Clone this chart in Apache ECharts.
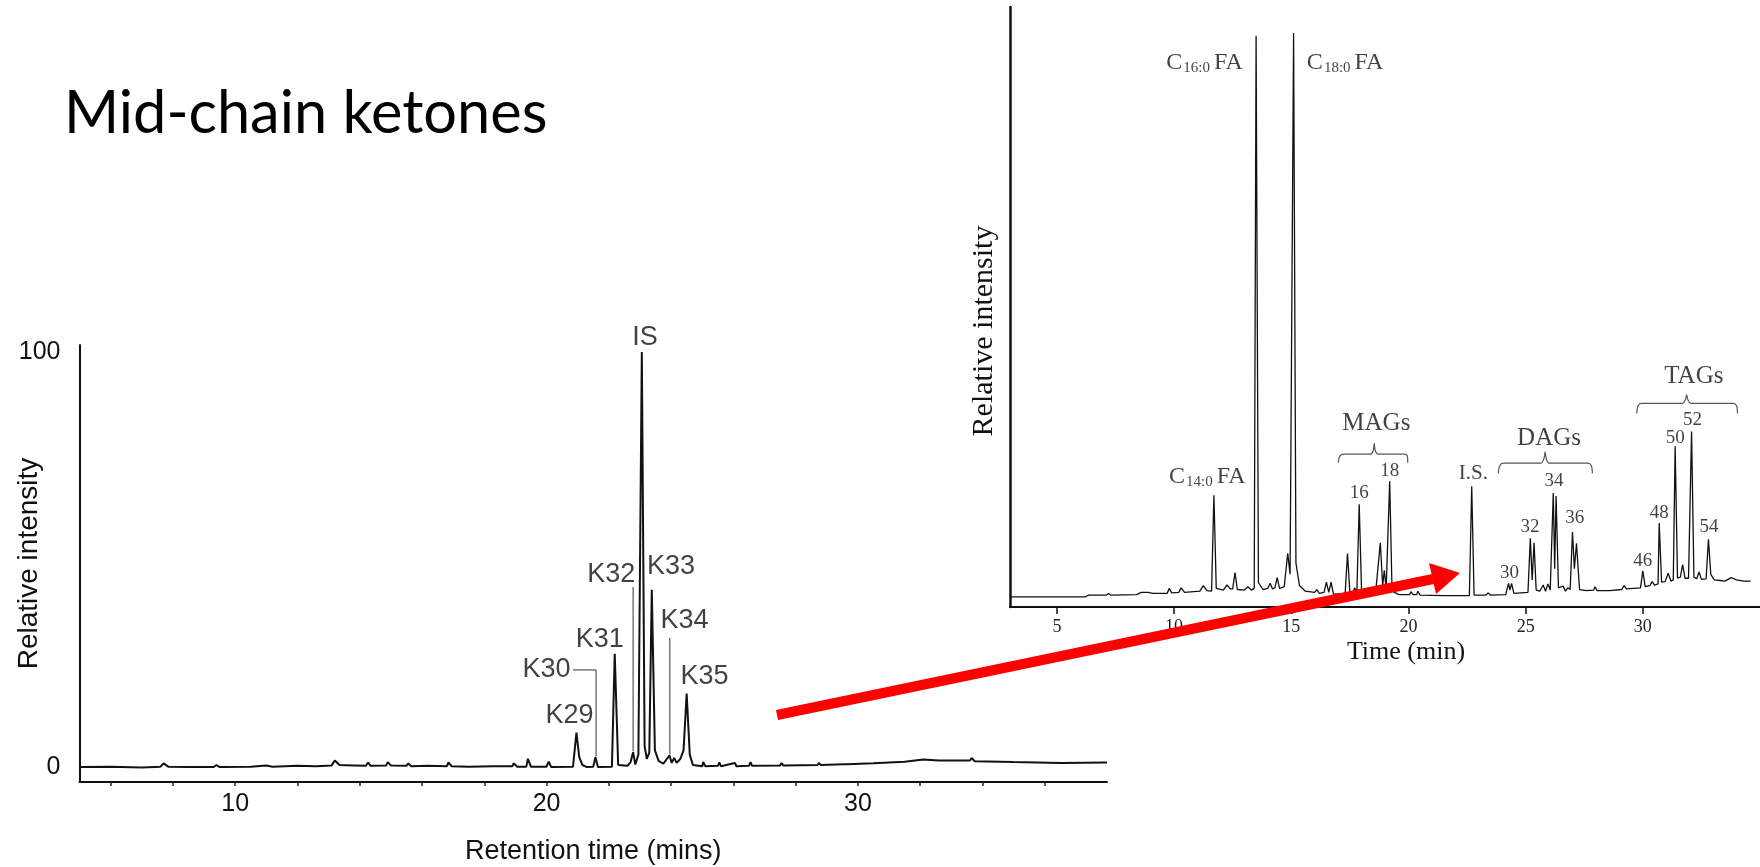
<!DOCTYPE html>
<html>
<head>
<meta charset="utf-8">
<script src="https://cdn.jsdelivr.net/npm/echarts@6/dist/echarts.min.js"></script>
<style>
html, body { margin: 0; padding: 0; background: #fff; }
#chart { width: 1760px; height: 867px; }
</style>
</head>
<body>
<div id="chart"></div>
<script>
// left chromatogram: mid-chain ketones, [retention time (min), relative intensity]
var ketoneTrace = [
    [5,0],[6,0.1],[7,-0.1],[7.6,0.1],[7.7,0.9],[7.85,0.1],[8.5,0],[9.3,0],[9.4,0.5],[9.5,0],
    [10.5,0.1],[11,0.4],[11.2,0.1],[12,0.3],[12.6,0.2],[13.1,0.4],[13.2,1.6],[13.35,0.5],[13.8,0.4],
    [14.2,0.3],[14.27,1.1],[14.35,0.3],[14.85,0.4],[14.9,1.2],[15.0,0.4],[15.5,0.3],[15.56,0.9],[15.65,0.2],
    [16.2,0.3],[16.8,0.2],[16.85,1.1],[16.95,0.2],[17.5,0.1],[18.3,0.2],[18.9,0.2],[18.95,0.9],[19.05,0.1],
    [19.35,0.1],[19.4,2.0],[19.5,0.1],[20.0,0.1],[20.07,1.3],[20.15,0],[20.85,0.1],[20.96,8.3],[21.05,2.4],
    [21.15,0.5],[21.3,0],[21.5,0.1],[21.57,2.4],[21.65,0],[22.1,0.1],[22.19,27.3],[22.3,0.5],[22.6,0.3],
    [22.7,1.2],[22.78,3.6],[22.85,0.6],[22.95,3],[23.06,100],[23.15,5],[23.22,2],[23.3,3.5],[23.38,42.7],
    [23.48,4],[23.6,1.5],[23.75,0.8],[23.95,2.8],[24.02,1.0],[24.1,2.2],[24.18,1.0],[24.3,2.0],[24.4,4],
    [24.5,17.7],[24.6,3],[24.7,0.5],[25.0,0.2],[25.03,1.2],[25.1,0.2],[25.5,0.3],[25.55,1.1],[25.6,0.2],
    [26.05,1.0],[26.1,0.2],[26.5,0.3],[26.55,1.2],[26.6,0.3],[27.5,0.4],[27.55,1.0],[27.6,0.4],[28.7,0.5],
    [28.75,1.0],[28.8,0.5],[29.55,0.7],[29.6,1.1],[29.65,0.7],[30.5,0.9],[31.5,1.3],[32.1,1.8],[32.6,1.6],
    [33.6,1.6],[33.65,2.2],[33.75,1.4],[35,1.2],[36.5,1.0],[38,1.1]
];
// [label centre time, label centre intensity, text]
var ketoneLabels = [
    [23.16,103.6,'IS'],[24.0,48.4,'K33'],[22.08,46.5,'K32'],[21.71,30.8,'K31'],
    [20.0,23.4,'K30'],[20.74,12.3,'K29'],[24.43,35.2,'K34'],[25.07,21.7,'K35']
];
var ketoneLeaders = [
    [[20.85,23.4],[21.59,23.4],[21.59,2.6]],
    [[22.78,43.4],[22.78,3.8]],
    [[23.96,31.1],[23.96,3.0]]
];
var ketoneTimeLabels = [10,20,30];
var ketoneTimeTicks = [6,8,10,12,14,16,18,20,22,24,26,28,30,32,34,36];
var ketoneIntensityLabels = [0,100];

// right chromatogram: lipid extract, [time (min), relative intensity]
var lipidTrace = [
    [3,0],[4,0],[5,0],[6.2,0],[6.35,0.3],[7.1,0.3],[7.2,0.6],[7.3,0.3],[8.4,0.4],[8.6,0.8],[8.9,0.8],
    [9.1,0.6],[9.7,0.6],[9.8,1.5],[9.9,0.7],[10.2,0.8],[10.3,1.6],[10.45,0.8],[11.1,1.0],[11.25,2.0],
    [11.4,1.1],[11.6,1.0],[11.7,18.0],[11.8,1.5],[12.1,1.2],[12.26,2.1],[12.4,1.4],[12.5,1.4],[12.6,4.3],
    [12.7,1.3],[13.0,1.2],[13.15,1.8],[13.3,1.2],[13.42,1.5],[13.5,99.5],[13.6,2.5],[13.8,1.3],[14.0,1.5],
    [14.1,2.4],[14.2,1.4],[14.3,1.6],[14.4,3.4],[14.5,1.5],[14.7,1.8],[14.85,7.7],[14.95,4],[15.1,100],
    [15.2,6],[15.35,2],[15.6,1.0],[16.0,0.8],[16.1,1.3],[16.2,0.6],[16.4,0.8],[16.5,2.6],[16.6,0.8],
    [16.7,2.6],[16.8,0.5],[17.3,0.6],[17.4,7.7],[17.5,0.8],[17.65,0.8],[17.7,1.6],[17.8,0.9],[17.9,16.4],
    [18.0,0.9],[18.6,0.8],[18.8,9.6],[18.9,2],[18.97,4.7],[19.05,1.5],[19.2,20.5],[19.3,1.0],[19.6,0.4],
    [20.05,0.4],[20.1,0.9],[20.2,0.4],[20.35,0.4],[20.4,1.0],[20.5,0.3],[21.5,0.2],[22.6,0.2],[22.7,19.6],
    [22.8,0.3],[23.3,0.3],[23.4,0.7],[23.5,0.3],[24.15,0.4],[24.27,2.4],[24.33,1.2],[24.4,2.4],[24.5,0.6],
    [24.8,0.7],[25.1,0.8],[25.2,10.4],[25.28,3],[25.36,9.6],[25.45,1.2],[25.6,1.0],[25.75,2.1],[25.85,1.0],
    [25.95,2.3],[26.05,1.2],[26.18,18.4],[26.24,5],[26.3,17.9],[26.4,1.6],[26.6,1.9],[26.7,1.0],[26.8,1.6],
    [26.9,1.3],[27.0,11.5],[27.08,5],[27.17,9.5],[27.3,1.3],[27.6,1.1],[27.9,1.2],[27.96,1.8],[28.05,1.1],
    [28.6,1.1],[29.1,1.3],[29.2,2.0],[29.3,1.4],[29.9,1.6],[30.0,4.6],[30.1,1.8],[30.3,2.0],[30.4,2.7],
    [30.5,2.1],[30.65,2.3],[30.7,13.1],[30.8,2.6],[30.95,2.7],[31.08,4.2],[31.2,2.8],[31.3,3],[31.38,26.7],
    [31.48,3.3],[31.6,3.5],[31.7,5.7],[31.8,3.3],[31.95,3.3],[32.08,29.3],[32.18,3.5],[32.3,3.2],[32.4,4.4],
    [32.5,3.1],[32.7,3.2],[32.8,10.2],[32.9,4],[33.05,3.0],[33.3,2.9],[33.5,2.8],[33.77,3.4],[34.0,3.0],
    [34.3,2.8],[34.6,2.8]
];
var lipidLabels = [
    [11.3,94.7,'C16:0 FA'],[17.3,94.7,'C18:0 FA'],[11.42,21.3,'C14:0 FA'],
    [18.63,30.8,'MAGs'],[17.9,18.4,'16'],[19.2,22.4,'18'],[22.77,21.9,'I.S.'],
    [26.0,28.1,'DAGs'],[26.21,20.5,'34'],[25.19,12.4,'32'],[27.1,13.9,'36'],[24.31,4.3,'30'],
    [32.18,39.0,'TAGs'],[32.12,31.3,'52'],[31.38,28.1,'50'],[30.7,14.8,'48'],[32.82,12.3,'54'],[30.0,6.3,'46']
];
var lipidBraces = [
    [[17.0,23.8],[17.08,25.0],[17.25,25.3],[18.38,25.3],[18.5,26.0],[18.54,27.2],[18.58,26.0],[18.7,25.3],[19.8,25.3],[19.95,25.0],[19.97,23.8]],
    [[23.83,21.9],[23.9,23.3],[24.05,23.7],[25.65,23.7],[25.78,24.5],[25.83,25.7],[25.88,24.5],[26.0,23.7],[27.65,23.7],[27.8,23.3],[27.85,21.9]],
    [[29.74,32.5],[29.8,33.9],[29.95,34.3],[31.7,34.3],[31.82,35.0],[31.87,35.8],[31.92,35.0],[32.05,34.3],[33.85,34.3],[34.0,33.9],[34.04,32.5]]
];
var lipidTimeLabels = [5,10,15,20,25,30];

var sans = 'Liberation Sans';
var serif = 'Liberation Serif';

var myChart = echarts.init(document.getElementById('chart'));

function lipidText(t) {
    var m = /^C(\d+:\d+) FA$/.exec(t);
    if (m) return '{m|C}{s|' + m[1] + '}{m|FA}';
    if (/Gs$/.test(t)) return '{g|' + t + '}';
    if (t === 'I.S.') return '{i|' + t + '}';
    return '{n|' + t + '}';
}

var series = [
    {
        type: 'line', xAxisIndex: 0, yAxisIndex: 0, data: ketoneTrace,
        showSymbol: false, silent: true,
        lineStyle: { color: '#111', width: 2 }
    },
    {
        type: 'scatter', xAxisIndex: 0, yAxisIndex: 0, data: ketoneLabels,
        symbolSize: 1, itemStyle: { color: 'transparent' }, clip: false, silent: true,
        label: {
            show: true, position: 'inside', color: '#111',
            fontFamily: sans, fontSize: 27,
            formatter: function (p) { return p.data[2]; }
        }
    },
    {
        type: 'line', xAxisIndex: 1, yAxisIndex: 1, data: lipidTrace,
        showSymbol: false, silent: true,
        lineStyle: { color: '#111', width: 1.3 }
    },
    {
        type: 'scatter', xAxisIndex: 1, yAxisIndex: 1, data: lipidLabels,
        symbolSize: 1, itemStyle: { color: 'transparent' }, clip: false, silent: true,
        label: {
            show: true, position: 'inside', color: '#111', fontFamily: serif,
            formatter: function (p) { return lipidText(p.data[2]); },
            rich: {
                m: { fontFamily: serif, fontSize: 24, color: '#111', padding: [0, 1, 0, 1] },
                s: { fontFamily: serif, fontSize: 15, color: '#111', padding: [10, 3, 0, 0] },
                g: { fontFamily: serif, fontSize: 25, color: '#111' },
                i: { fontFamily: serif, fontSize: 21, color: '#111' },
                n: { fontFamily: serif, fontSize: 19, color: '#111' }
            }
        }
    }
];

ketoneLeaders.forEach(function (pts) {
    series.push({
        type: 'line', xAxisIndex: 0, yAxisIndex: 0, data: pts,
        showSymbol: false, silent: true,
        lineStyle: { color: '#333', width: 1 }
    });
});
lipidBraces.forEach(function (pts) {
    series.push({
        type: 'line', xAxisIndex: 1, yAxisIndex: 1, data: pts,
        showSymbol: false, silent: true, smooth: 0.3,
        lineStyle: { color: '#555', width: 1.2 }
    });
});

var option = {
    animation: false,
    backgroundColor: '#fff',
    title: {
        text: 'Mid-chain ketones',
        left: 59,
        top: 79,
        textStyle: { fontFamily: 'Lato', fontSize: 59.5, fontWeight: 'normal', color: '#000' }
    },
    grid: [
        { left: 79.5, right: 653, top: 345, bottom: 85, outerBoundsMode: 'none' },
        { left: 1010, right: 0, top: 7, bottom: 260, outerBoundsMode: 'none' }
    ],
    xAxis: [
        {
            type: 'value', gridIndex: 0, min: 5, max: 38,
            name: 'Retention time (mins)', nameLocation: 'middle', nameGap: 56, nameMoveOverlap: false,
            nameTextStyle: { fontFamily: sans, fontSize: 27, color: '#111' },
            axisLine: { onZero: false, lineStyle: { color: '#111', width: 2 } },
            axisTick: { customValues: ketoneTimeTicks, length: 4, lineStyle: { color: '#222', width: 1.5 } },
            axisLabel: { customValues: ketoneTimeLabels, margin: 10, fontFamily: sans, fontSize: 25, color: '#111' },
            splitLine: { show: false }
        },
        {
            type: 'value', gridIndex: 1, min: 3, max: 35,
            name: 'Time (min)', nameLocation: 'middle', nameGap: 32, nameMoveOverlap: false,
            nameTextStyle: { fontFamily: serif, fontSize: 26, color: '#111', padding: [0, 0, 0, 42] },
            axisLine: { onZero: false, lineStyle: { color: '#111', width: 2 } },
            axisTick: { customValues: lipidTimeLabels, length: 7, lineStyle: { color: '#111', width: 1.5 } },
            axisLabel: { customValues: lipidTimeLabels, margin: 11, fontFamily: serif, fontSize: 18, color: '#222' },
            splitLine: { show: false }
        }
    ],
    yAxis: [
        {
            type: 'value', gridIndex: 0, min: -3.6, max: 101.7,
            name: 'Relative intensity', nameLocation: 'middle', nameGap: 36, nameMoveOverlap: false,
            nameTextStyle: { fontFamily: sans, fontSize: 28, color: '#111' },
            axisLine: { show: true, onZero: false, lineStyle: { color: '#111', width: 2 } },
            axisTick: { show: false },
            axisLabel: { customValues: ketoneIntensityLabels, margin: 19, fontFamily: sans, fontSize: 25, color: '#111' },
            splitLine: { show: false }
        },
        {
            type: 'value', gridIndex: 1, min: -1.8, max: 104.6,
            name: 'Relative intensity', nameLocation: 'middle', nameGap: 11, nameMoveOverlap: false,
            nameTextStyle: { fontFamily: serif, fontSize: 30, color: '#111', padding: [0, 48, 0, 0] },
            axisLine: { show: true, onZero: false, lineStyle: { color: '#111', width: 2.5 } },
            axisTick: { show: false },
            axisLabel: { show: false },
            splitLine: { show: false }
        }
    ],
    graphic: [
        {
            type: 'line', z: 100,
            shape: { x1: 777, y1: 715, x2: 1433, y2: 579 },
            style: { stroke: '#ff0000', lineWidth: 10 }
        },
        {
            type: 'polygon', z: 100,
            shape: { points: [[1460, 573], [1429, 563], [1436, 594]] },
            style: { fill: '#ff0000' }
        }
    ],
    series: series
};
myChart.setOption(option);
</script>
</body>
</html>
